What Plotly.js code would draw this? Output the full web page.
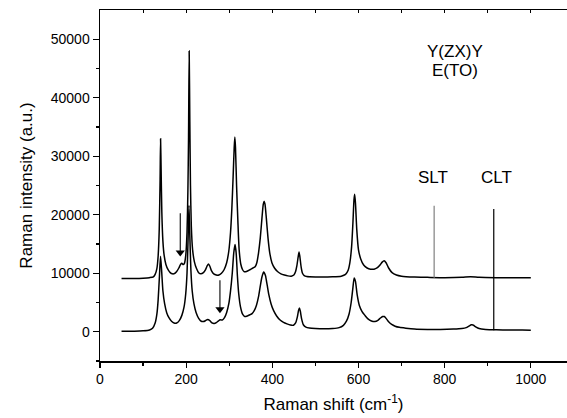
<!DOCTYPE html>
<html>
<head>
<meta charset="utf-8">
<script src="https://cdn.plot.ly/plotly-3.0.1.min.js"></script>
<style>html,body{margin:0;padding:0;background:#fff;}</style>
</head>
<body>
<div id="chart" style="width:567px;height:418px;"></div>
<script>
// Upper spectrum (SLT, vertically offset)
const sltX = [50, 80, 100, 115, 124, 128, 132, 135, 137.5, 139.5, 140.6, 141.8, 143.5, 146, 149, 153, 158, 163, 168, 173, 178, 183, 187, 190, 193, 196, 199, 202, 204, 205.5, 207, 208.5, 210, 212, 215, 219, 224, 229, 234, 240, 245, 249, 252, 255, 259, 264, 270, 276, 282, 288, 294, 299, 303, 306, 309, 311.5, 313, 314.5, 317, 320, 323, 327, 331, 335, 340, 348, 355, 360, 364, 368, 372, 376, 379, 381, 383, 386, 390, 394, 399, 405, 412, 420, 428, 436, 444, 450, 454, 457, 460, 462, 464, 467, 470, 474, 480, 500, 540, 560, 570, 576, 580, 584, 587, 589.5, 591, 593, 596, 600, 605, 612, 620, 628, 636, 643, 650, 655, 659.5, 664, 670, 678, 688, 700, 730, 760, 800, 840, 860, 880, 920, 960, 1000];
const sltY = [9100, 9100, 9150, 9250, 9400, 9800, 10800, 13000, 17500, 26000, 33000, 28000, 20500, 15500, 13000, 11500, 10600, 10100, 9900, 9950, 10300, 10900, 11500, 11700, 11500, 11700, 13000, 17000, 24000, 33000, 48000, 36000, 25000, 18000, 14000, 12000, 10800, 10100, 9900, 10100, 10600, 11300, 11600, 11200, 10400, 9900, 9700, 9700, 10000, 10600, 11800, 13800, 17000, 21000, 26500, 31500, 33300, 31500, 25000, 19000, 14000, 11500, 10600, 10250, 10300, 10600, 10900, 11100, 11800, 13500, 16000, 19500, 21800, 22300, 21800, 19500, 16000, 13500, 11800, 10900, 10300, 9900, 9700, 9550, 9500, 9700, 10300, 11300, 12800, 13650, 12800, 11000, 10000, 9600, 9450, 9380, 9400, 9500, 9800, 10500, 11800, 14500, 18500, 22500, 23500, 22000, 17500, 14000, 12500, 11400, 10900, 10700, 10700, 10900, 11400, 11900, 12150, 11800, 10900, 10100, 9700, 9500, 9350, 9300, 9250, 9300, 9400, 9300, 9250, 9250, 9250];

// Lower spectrum (CLT)
const cltX = [50, 80, 100, 115, 122, 128, 132, 135, 138, 140.5, 143, 146, 150, 155, 160, 166, 172, 178, 184, 190, 195, 199, 202, 204.5, 206.5, 208.5, 211, 214, 218, 223, 229, 235, 240, 245, 250, 255, 260, 265, 270, 275, 279, 284, 289, 294, 299, 303, 307, 310.5, 313.5, 316, 319, 322, 326, 331, 336, 342, 348, 353, 358, 363, 368, 372, 376, 380, 384, 388, 392, 397, 403, 410, 418, 426, 434, 442, 449, 454, 458, 461, 463, 465, 468, 472, 478, 486, 500, 520, 540, 555, 565, 572, 578, 583, 587, 590, 593, 597, 602, 608, 615, 622, 630, 638, 645, 651, 656, 660, 665, 670, 677, 685, 695, 710, 730, 760, 790, 820, 840, 850, 856, 862, 866, 872, 880, 895, 920, 950, 980, 1000];
const cltY = [100, 100, 150, 300, 600, 1500, 3000, 5500, 9500, 12900, 10500, 7000, 4800, 3200, 2400, 1800, 1500, 1500, 1900, 2800, 4200, 6500, 10000, 16000, 21600, 16500, 10500, 7000, 4800, 3300, 2300, 1800, 1750, 1900, 2100, 1900, 1500, 1400, 1550, 1850, 2050, 2000, 2400, 3300, 4800, 7000, 10000, 13500, 14900, 13500, 9500, 6500, 4300, 3000, 2600, 2700, 2900, 3100, 3600, 4500, 6000, 7800, 9400, 10200, 9600, 8000, 6300, 4800, 3600, 2700, 2000, 1600, 1350, 1150, 1100, 1500, 2500, 3700, 4050, 3500, 2200, 1200, 800, 650, 550, 500, 550, 700, 1100, 1800, 3000, 5000, 7500, 9200, 8600, 6300, 4500, 3500, 2800, 2200, 1850, 1750, 1950, 2350, 2600, 2600, 2200, 1700, 1250, 950, 750, 600, 450, 380, 380, 450, 550, 700, 950, 1200, 1150, 850, 550, 400, 330, 300, 280, 260];

// Marker lines (SLT / CLT positions) and arrows
const markerNames = ["SLT", "CLT"];
const markerPos = [775.6, 914];
const markerBottom = [9250, 260];
const markerTop = [21540, 20980];
const markerColors = ["#808080", "#000000"];
const arrowX = [186.3, 278.4];
const arrowTail = [20240, 8820];
const arrowTip = [12930, 3220];

const xTicks = [0, 200, 400, 600, 800, 1000];
const yTicks = [0, 10000, 20000, 30000, 40000, 50000];

const FONT = "Liberation Sans, Arial, sans-serif";
const Y_RANGE = [-5000, 55000];
const PLOT_H = 351;
const unitsPerPx = (Y_RANGE[1] - Y_RANGE[0]) / PLOT_H;
const HEAD = 8; // arrowhead marker size, px

const traces = [
  {x: sltX, y: sltY, type: "scatter", mode: "lines", line: {color: "#000", width: 1.5, shape: "spline", smoothing: 0.6}, hoverinfo: "skip"},
  {x: cltX, y: cltY, type: "scatter", mode: "lines", line: {color: "#000", width: 1.5, shape: "spline", smoothing: 0.6}, hoverinfo: "skip"},
  // arrowheads
  {x: arrowX, y: arrowTip.map(v => v + unitsPerPx * HEAD * 0.45), type: "scatter", mode: "markers",
   marker: {symbol: "triangle-down", size: HEAD, color: "#000", line: {width: 0}}, hoverinfo: "skip"},
  {x: [0], y: [0], xaxis: "x2", type: "scatter", mode: "none", hoverinfo: "skip", showlegend: false}
];

const shapes = markerPos.map((p, i) => ({
  type: "line", xref: "x", yref: "y", x0: p, x1: p, y0: markerBottom[i], y1: markerTop[i],
  line: {color: markerColors[i], width: 1.2}
}));
arrowX.forEach((ax, i) => {
  shapes.push({type: "line", xref: "x", yref: "y", x0: ax, x1: ax, y0: arrowTail[i], y1: arrowTip[i] + unitsPerPx * HEAD * 0.6,
    line: {color: "#000", width: 1.1}});
});

const annotations = [
  {x: 824, y: 47900, xref: "x", yref: "y", text: "Y(ZX)Y", showarrow: false, font: {family: FONT, size: 17, color: "#000"}},
  {x: 824, y: 44600, xref: "x", yref: "y", text: "E(TO)", showarrow: false, font: {family: FONT, size: 17, color: "#000"}}
];
markerNames.forEach((n, i) => {
  annotations.push({x: markerPos[i] + (i === 0 ? -3 : 5.5), y: 26340, xref: "x", yref: "y", text: n, showarrow: false,
    font: {family: FONT, size: 17, color: "#000"}});
});

const layout = {
  width: 567, height: 418,
  margin: {l: 100, r: 0, t: 10, b: 57, pad: 0},
  paper_bgcolor: "#fff", plot_bgcolor: "#fff",
  showlegend: false,
  font: {family: FONT, color: "#000"},
  xaxis: {
    range: [0, 1084], tickvals: xTicks, ticktext: xTicks.map(String),
    ticks: "outside", ticklen: 5, tickwidth: 1.2, tickcolor: "#000",
    minor: {tickvals: [100, 300, 500, 700, 900], ticks: "outside", ticklen: 3, tickwidth: 1.2, tickcolor: "#000"},
    showline: true, linecolor: "#000", linewidth: 1.5, showgrid: false, zeroline: false,
    tickfont: {family: FONT, size: 14, color: "#000"},
    title: {text: "Raman shift (cm<sup>-1</sup>)", font: {family: FONT, size: 17, color: "#000"}, standoff: 12},
    automargin: false
  },
  xaxis2: {
    range: [0, 1084], overlaying: "x", side: "top", dtick: 100, tick0: 0,
    ticks: "inside", ticklen: 3, tickwidth: 1, tickcolor: "#000", showticklabels: false,
    showline: true, linecolor: "#000", linewidth: 1.5, showgrid: false, zeroline: false, automargin: false
  },
  yaxis: {
    range: Y_RANGE, tickvals: yTicks, ticktext: yTicks.map(String),
    ticks: "outside", ticklen: 6, tickwidth: 1.2, tickcolor: "#000",
    minor: {tickvals: [-5000, 5000, 15000, 25000, 35000, 45000], ticks: "outside", ticklen: 3, tickwidth: 1.2, tickcolor: "#000"},
    showline: true, linecolor: "#000", linewidth: 1.5, showgrid: false, zeroline: false,
    tickfont: {family: FONT, size: 14, color: "#000"},
    title: {text: "Raman intensity (a.u.)", font: {family: FONT, size: 17, color: "#000"}, standoff: 14},
    automargin: false
  },
  shapes: shapes,
  annotations: annotations
};

Plotly.newPlot("chart", traces, layout, {displayModeBar: false, staticPlot: true});
</script>
</body>
</html>
